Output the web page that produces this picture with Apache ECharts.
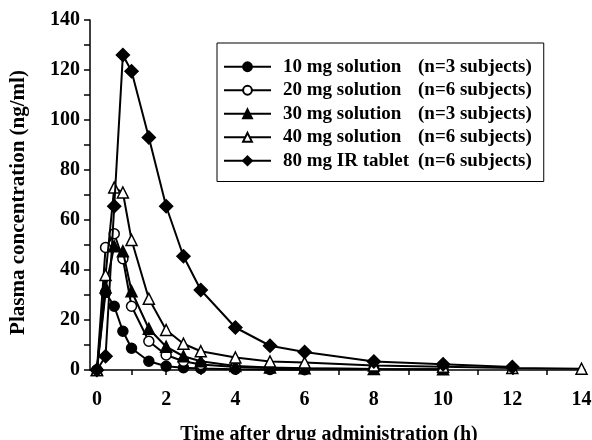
<!DOCTYPE html>
<html>
<head>
<meta charset="utf-8">
<script src="https://cdn.jsdelivr.net/npm/echarts@6/dist/echarts.min.js"></script>
<style>
html,body{margin:0;padding:0;background:#fff;}
#chart{width:592px;height:440px;}
</style>
</head>
<body>
<div id="chart"></div>
<script>
// ---- data ----
const seriesNames = ['10 mg solution', '20 mg solution', '30 mg solution', '40 mg solution', '80 mg IR tablet'];
const subjectLabels = ['(n=3 subjects)', '(n=6 subjects)', '(n=3 subjects)', '(n=6 subjects)', '(n=6 subjects)'];

const t10 = [0, 0.25, 0.5, 0.75, 1, 1.5, 2, 2.5, 3, 4, 5, 6];
const c10 = [0, 31, 25.5, 15.5, 8.7, 3.5, 1.5, 0.9, 0.6, 0.3, 0.2, 0.1];

const t20 = [0, 0.25, 0.5, 0.75, 1, 1.5, 2, 2.5, 3, 4, 5, 6, 8, 10];
const c20 = [0, 49, 54.5, 44.5, 25.5, 11.5, 6, 3.5, 2.2, 1.2, 0.8, 0.6, 0.4, 0.3];

const t30 = [0, 0.25, 0.5, 0.75, 1, 1.5, 2, 2.5, 3, 4, 5, 6, 8, 10];
const c30 = [0, 33, 49.5, 47.5, 31.5, 16.5, 9.3, 5.5, 3.5, 1.6, 1, 0.7, 0.4, 0.3];

const t40 = [0, 0.25, 0.5, 0.75, 1, 1.5, 2, 2.5, 3, 4, 5, 6, 8, 10, 12, 14];
const c40 = [0, 38, 73, 71, 52, 28.5, 16, 10.5, 7.5, 5, 3.4, 3, 1.8, 1.3, 0.8, 0.5];

const t80 = [0, 0.25, 0.5, 0.75, 1, 1.5, 2, 2.5, 3, 4, 5, 6, 8, 10, 12];
const c80 = [0, 5.5, 65.5, 126, 119.5, 93, 65.5, 45.5, 32, 17, 9.7, 7.2, 3.4, 2.3, 1.2];

const xTicks = [0, 1, 2, 3, 4, 5, 6, 7, 8, 9, 10, 11, 12, 13, 14];
const xTickLabels = [0, 2, 4, 6, 8, 10, 12, 14];
const yTickLabels = [0, 20, 40, 60, 80, 100, 120, 140];

const xTitle = 'Time after drug administration (h)';
const yTitle = 'Plasma concentration (ng/ml)';

// ---- chart ----
const FONT = '"Liberation Serif", "Times New Roman", serif';
const zip = (t, c) => t.map((v, i) => [v, c[i]]);
const times = [t10, t20, t30, t40, t80];
const concs = [c10, c20, c30, c40, c80];
const symbols = [
  {symbol: 'circle', size: 10, fill: '#000'},
  {symbol: 'circle', size: 10, fill: '#fff'},
  {symbol: 'triangle', size: 11, fill: '#000'},
  {symbol: 'triangle', size: 11, fill: '#fff'},
  {symbol: 'diamond', size: 13, fill: '#000'}
];

const series = seriesNames.map((name, i) => ({
  name: name,
  type: 'line',
  data: zip(times[i], concs[i]),
  symbol: symbols[i].symbol,
  symbolSize: symbols[i].size,
  showAllSymbol: true,
  lineStyle: {color: '#000', width: 2},
  itemStyle: {color: symbols[i].fill, borderColor: '#000', borderWidth: 1.5},
  emphasis: {disabled: true},
  animation: false,
  z: 2 + i
}));

const chart = echarts.init(document.getElementById('chart'), null, {renderer: 'canvas'});
chart.setOption({
  backgroundColor: '#fff',
  animation: false,
  grid: {left: 90, right: 7, top: 20, bottom: 70, outerBoundsMode: 'none', containLabel: false},
  legend: {
    orient: 'vertical',
    left: 217,
    top: 43,
    data: seriesNames,
    itemWidth: 47,
    itemHeight: 11,
    itemGap: 0,
    padding: [12, 12, 9, 6],
    borderColor: '#000',
    borderWidth: 1,
    backgroundColor: '#fff',
    selectedMode: false,
    formatter: function (name) {
      const i = seriesNames.indexOf(name);
      return '{a|' + name + '}{b|' + subjectLabels[i] + '}';
    },
    textStyle: {
      fontFamily: FONT, fontWeight: 'bold', fontSize: 19, color: '#000',
      lineHeight: 23.5,
      padding: [0, 0, 0, 7],
      rich: {
        a: {fontFamily: FONT, fontWeight: 'bold', fontSize: 19, color: '#000', width: 135, lineHeight: 23.5},
        b: {fontFamily: FONT, fontWeight: 'bold', fontSize: 19, color: '#000', lineHeight: 23.5}
      }
    }
  },
  xAxis: {
    type: 'value',
    min: -0.2,
    max: 14.1,
    name: xTitle,
    nameLocation: 'middle',
    nameGap: 55,
    nameTextStyle: {fontFamily: FONT, fontWeight: 'bold', fontSize: 20, color: '#000', padding: [0, 17, 0, 0]},
    axisLine: {show: true, onZero: false, lineStyle: {color: '#000', width: 1.5}},
    axisTick: {show: true, inside: false, length: 5, customValues: xTicks, lineStyle: {color: '#000', width: 1.5}},
    axisLabel: {customValues: xTickLabels, margin: 20, fontFamily: FONT, fontWeight: 'bold', fontSize: 20, color: '#000'},
    splitLine: {show: false}
  },
  yAxis: {
    type: 'value',
    min: 0,
    max: 140,
    interval: 10,
    name: yTitle,
    nameLocation: 'middle',
    nameGap: 61,
    nameTextStyle: {fontFamily: FONT, fontWeight: 'bold', fontSize: 21, color: '#000', padding: [0, 15, 0, 0]},
    axisLine: {show: true, onZero: false, lineStyle: {color: '#000', width: 1.5}},
    axisTick: {show: true, inside: false, length: 6, lineStyle: {color: '#000', width: 1.5}},
    axisLabel: {customValues: yTickLabels, margin: 10, fontFamily: FONT, fontWeight: 'bold', fontSize: 20, color: '#000'},
    splitLine: {show: false}
  },
  series: series
});
</script>
</body>
</html>
